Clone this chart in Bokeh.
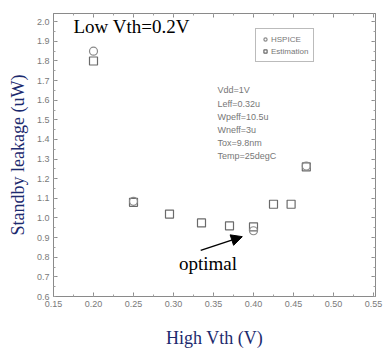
from bokeh.plotting import figure
from bokeh.models import (Range1d, LinearAxis, Legend, LegendItem, Arrow, NormalHead,
                          Label, FixedTicker, CustomJSTickFormatter)
from bokeh.embed import file_html
from bokeh.resources import INLINE

# Standby leakage vs. high-Vth choice (low Vth fixed at 0.2 V)
vth_estimation = [0.20, 0.25, 0.295, 0.335, 0.37, 0.40, 0.425, 0.447, 0.466]
leak_estimation = [1.80, 1.08, 1.02, 0.975, 0.96, 0.955, 1.07, 1.07, 1.26]
vth_hspice = [0.20, 0.25, 0.40, 0.466]
leak_hspice = [1.85, 1.085, 0.935, 1.265]

x_ticks = [0.15, 0.20, 0.25, 0.30, 0.35, 0.40, 0.45, 0.50, 0.55]
y_ticks = [0.6, 0.7, 0.8, 0.9, 1.0, 1.1, 1.2, 1.3, 1.4, 1.5, 1.6, 1.7, 1.8, 1.9, 2.0]
conditions = ["Vdd=1V", "Leff=0.32u", "Wpeff=10.5u", "Wneff=3u", "Tox=9.8nm", "Temp=25degC"]

NAVY = "#1c2a6e"
GRAY = "#7a7a7a"
SERIF = "Liberation Serif"
SANS = "Liberation Sans"

p = figure(width=383, height=360, output_backend="svg", toolbar_location=None,
           x_range=Range1d(0.15, 0.5525), y_range=Range1d(0.6, 2.042),
           min_border_left=53, min_border_right=8, min_border_top=13, min_border_bottom=64,
           x_axis_label="High Vth (V)", y_axis_label="Standby leakage (uW)")
p.background_fill_color = "white"
p.border_fill_color = "white"
p.outline_line_color = "#8a8a8a"
p.outline_line_width = 1
p.xgrid.visible = False
p.ygrid.visible = False


def style_axis(ax):
    ax.axis_line_color = "#8a8a8a"
    ax.major_tick_in = 4
    ax.major_tick_out = 0
    ax.minor_tick_in = 2
    ax.minor_tick_out = 0
    ax.major_tick_line_color = "#8a8a8a"
    ax.minor_tick_line_color = "#a0a0a0"
    ax.major_label_text_font = SANS
    ax.major_label_text_font_size = "9px"
    ax.major_label_text_color = GRAY


x_ticker = FixedTicker(ticks=x_ticks, minor_ticks=[round(0.15 + 0.025 * i, 3) for i in range(17)])
y_ticker = FixedTicker(ticks=y_ticks, minor_ticks=[round(0.6 + 0.05 * i, 2) for i in range(29)])

xa = p.xaxis[0]
ya = p.yaxis[0]
xa.ticker = x_ticker
ya.ticker = y_ticker
xa.major_label_overrides = {t: f"{t:.2f}" for t in x_ticks}
ya.major_label_overrides = {t: f"{t:.1f}" for t in y_ticks}
style_axis(xa)
style_axis(ya)
xa.major_label_standoff = 4
ya.major_label_standoff = 4
for ax in (xa, ya):
    ax.axis_label_text_font = SERIF
    ax.axis_label_text_font_style = "normal"
    ax.axis_label_text_color = NAVY
    ax.axis_label_text_font_size = "18px"
xa.axis_label_standoff = 18
ya.axis_label_standoff = 6

# tick marks only on the top and right edges of the frame
blank = CustomJSTickFormatter(code="return '';")
top = LinearAxis(ticker=x_ticker, formatter=blank, major_label_standoff=0)
right = LinearAxis(ticker=y_ticker, formatter=blank, major_label_standoff=0)
style_axis(top)
style_axis(right)
p.add_layout(top, "above")
p.add_layout(right, "right")

est = p.scatter(vth_estimation, leak_estimation, marker="square", size=8,
                fill_color=None, line_color="#6a6a6a", line_width=1.2)
hsp = p.scatter(vth_hspice, leak_hspice, marker="circle", size=8,
                fill_color=None, line_color="#8a8a8a", line_width=1.2)

legend = Legend(items=[LegendItem(label="HSPICE", renderers=[hsp]),
                       LegendItem(label="Estimation", renderers=[est])],
                location=(202, 234), label_text_font=SANS, label_text_font_size="8px",
                label_text_color="#777777", glyph_width=8, glyph_height=8,
                label_height=10, label_standoff=2, spacing=2, padding=5, margin=0,
                border_line_color="#777777", background_fill_color="white")
p.add_layout(legend, "center")

p.add_layout(Label(x=0.175, y=1.975, text="Low Vth=0.2V", text_font=SERIF,
                   text_font_size="19px", text_color="black", text_baseline="middle"))

line_gap = 0.067
for i, txt in enumerate(conditions):
    p.add_layout(Label(x=0.355, y=1.65 - i * line_gap, text=txt, text_font=SANS,
                       text_font_size="9px", text_color="#777777", text_baseline="middle"))

p.add_layout(Arrow(end=NormalHead(size=11, fill_color="black", line_color="black"),
                   x_start=0.334, y_start=0.835, x_end=0.386, y_end=0.905,
                   line_color="black", line_width=1.5))
p.add_layout(Label(x=0.343, y=0.77, text="optimal", text_font=SERIF,
                   text_font_size="19px", text_color="black",
                   text_align="center", text_baseline="middle"))

open("out.html", "w").write(file_html(p, INLINE))
